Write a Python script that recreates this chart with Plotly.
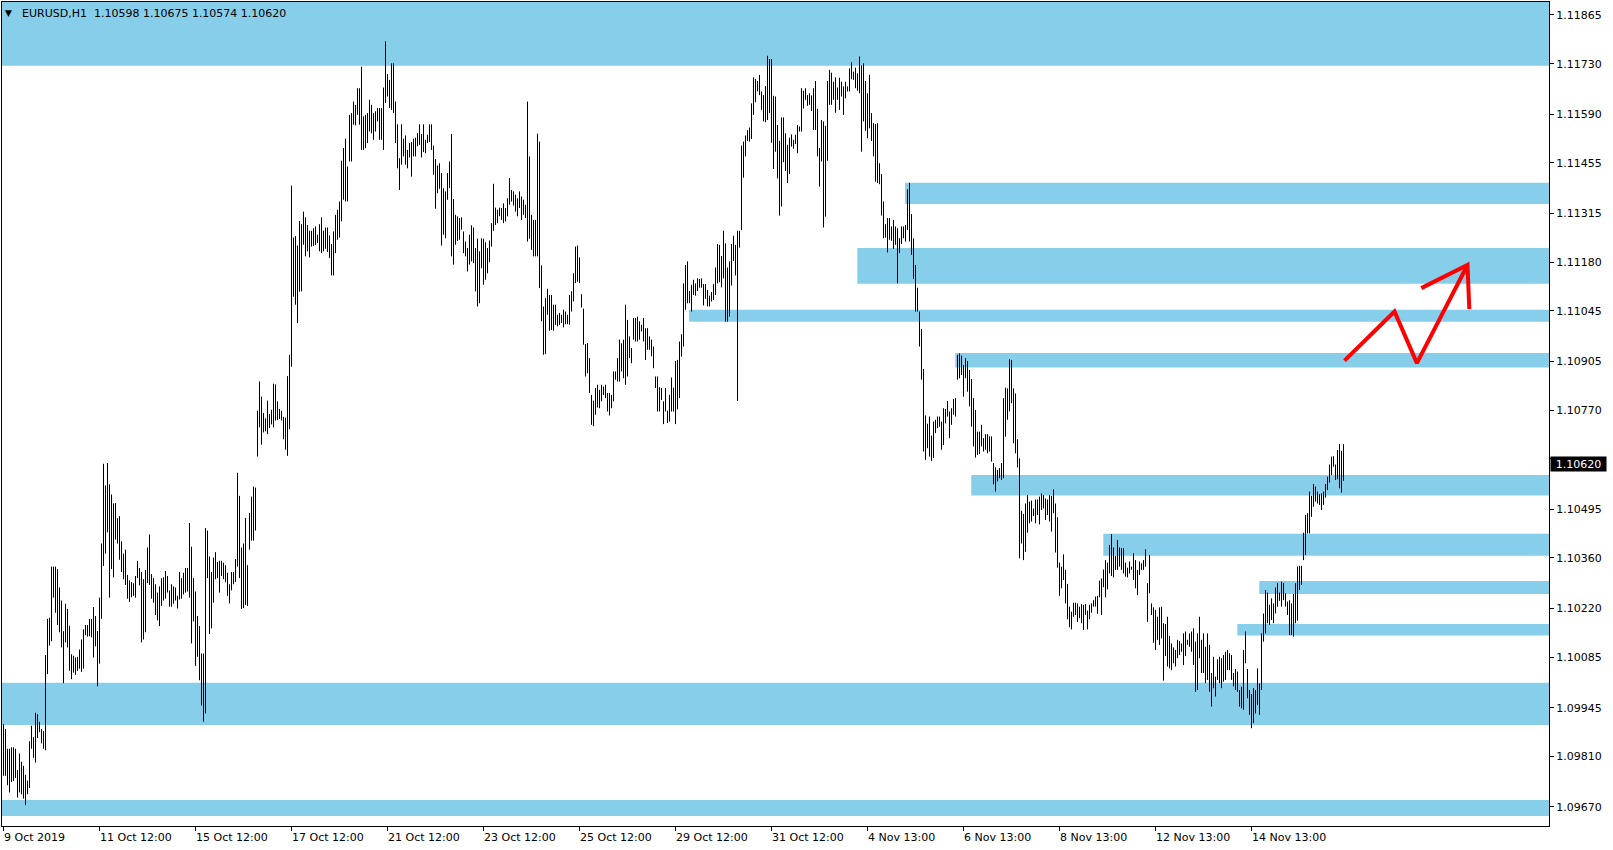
import plotly.graph_objects as go

# ---------------- data ----------------
symbol_header = "EURUSD,H1\u00a0\u00a01.10598 1.10675 1.10574 1.10620"
last_price = 1.10620

highs = [
1.09899,1.09886,1.09831,1.09831,1.09835,1.09835,1.09831,1.09772,1.09818,1.09795,
1.09784,1.09759,1.09743,1.09852,1.09895,1.09863,1.09931,1.09927,1.09906,1.09886,
1.09880,1.10091,1.10191,1.10194,1.10336,1.10336,1.10336,1.10329,1.10278,1.10242,
1.10157,1.10233,1.10219,1.10172,1.10093,1.10089,1.10084,1.10086,1.10106,1.10134,
1.10162,1.10174,1.10174,1.10191,1.10191,1.10224,1.10199,1.10157,1.10250,1.10400,
1.10621,1.10561,1.10623,1.10564,1.10536,1.10511,1.10512,1.10470,1.10476,1.10406,
1.10372,1.10383,1.10313,1.10298,1.10293,1.10290,1.10310,1.10352,1.10332,1.10321,
1.10301,1.10327,1.10389,1.10425,1.10315,1.10304,1.10287,1.10264,1.10281,1.10304,
1.10306,1.10324,1.10310,1.10270,1.10287,1.10281,1.10278,1.10255,1.10321,1.10304,
1.10319,1.10332,1.10332,1.10457,1.10391,1.10304,1.10267,1.10199,1.10171,1.10095,
1.10095,1.10443,1.10436,1.10364,1.10321,1.10361,1.10376,1.10349,1.10352,1.10352,
1.10347,1.10340,1.10319,1.10287,1.10321,1.10321,1.10357,1.10596,1.10532,1.10389,
1.10400,1.10471,1.10340,1.10485,1.10530,1.10558,1.10555,1.10768,1.10849,1.10807,
1.10762,1.10747,1.10796,1.10759,1.10771,1.10843,1.10841,1.10794,1.10773,1.10768,
1.10751,1.10749,1.10864,1.10923,1.11392,1.11248,1.11252,1.11226,1.11294,1.11285,
1.11320,1.11304,1.11283,1.11267,1.11267,1.11274,1.11279,1.11256,1.11285,1.11304,
1.11267,1.11276,1.11276,1.11254,1.11230,1.11265,1.11311,1.11325,1.11348,1.11461,
1.11496,1.11522,1.11445,1.11588,1.11593,1.11625,1.11616,1.11662,1.11662,1.11722,
1.11584,1.11588,1.11593,1.11630,1.11616,1.11593,1.11598,1.11607,1.11607,1.11607,
1.11664,1.11792,1.11701,1.11685,1.11731,1.11731,1.11625,1.11562,1.11468,1.11562,
1.11522,1.11531,1.11491,1.11510,1.11513,1.11522,1.11525,1.11537,1.11562,1.11535,
1.11562,1.11519,1.11533,1.11562,1.11562,1.11503,1.11466,1.11448,1.11454,1.11427,
1.11385,1.11376,1.11427,1.11459,1.11535,1.11355,1.11311,1.11307,1.11302,1.11304,
1.11265,1.11237,1.11219,1.11256,1.11282,1.11276,1.11219,1.11245,1.11210,1.11246,
1.11245,1.11235,1.11219,1.11240,1.11288,1.11397,1.11331,1.11325,1.11331,1.11330,
1.11343,1.11330,1.11357,1.11413,1.11380,1.11376,1.11367,1.11357,1.11376,1.11362,
1.11353,1.11339,1.11625,1.11473,1.11311,1.11297,1.11297,1.11536,1.11514,1.11171,
1.11057,1.11080,1.11106,1.11089,1.11089,1.11062,1.11062,1.11034,1.11039,1.11034,
1.11048,1.11043,1.11034,1.11089,1.11099,1.11149,1.11223,1.11226,1.11193,1.11091,
1.11051,1.10953,1.10956,1.10914,1.10812,1.10796,1.10831,1.10840,1.10826,1.10840,
1.10835,1.10840,1.10817,1.10817,1.10812,1.10877,1.10877,1.10914,1.10965,1.10955,
1.10965,1.11062,1.11020,1.10974,1.10942,1.11025,1.11025,1.11029,1.11016,1.11006,
1.11025,1.10997,1.10997,1.10974,1.10965,1.10946,1.10863,1.10863,1.10833,1.10831,
1.10794,1.10831,1.10768,1.10812,1.10860,1.10832,1.10906,1.10909,1.10960,1.10980,
1.11121,1.11172,1.11182,1.11100,1.11117,1.11131,1.11121,1.11135,1.11133,1.11135,
1.11119,1.11119,1.11103,1.11087,1.11097,1.11119,1.11165,1.11230,1.11228,1.11197,
1.11267,1.11232,1.11165,1.11182,1.11230,1.11253,1.11228,1.11267,1.11267,1.11503,
1.11514,1.11531,1.11546,1.11553,1.11620,1.11692,1.11688,1.11682,1.11699,1.11653,
1.11643,1.11668,1.11752,1.11743,1.11743,1.11641,1.11639,1.11560,1.11516,1.11581,
1.11581,1.11537,1.11505,1.11525,1.11534,1.11519,1.11533,1.11560,1.11556,1.11662,
1.11655,1.11662,1.11643,1.11648,1.11642,1.11662,1.11682,1.11605,1.11496,1.11574,
1.11570,1.11558,1.11682,1.11713,1.11705,1.11680,1.11692,1.11664,1.11691,1.11680,
1.11667,1.11680,1.11667,1.11717,1.11734,1.11708,1.11719,1.11703,1.11750,1.11725,
1.11731,1.11682,1.11648,1.11699,1.11593,1.11565,1.11563,1.11565,1.11454,1.11424,
1.11348,1.11285,1.11302,1.11302,1.11279,1.11297,1.11279,1.11274,1.11246,1.11279,
1.11279,1.11283,1.11382,1.11400,1.11313,1.11246,1.11172,1.11109,1.11043,1.10995,
1.10884,1.10755,1.10732,1.10752,1.10699,1.10738,1.10743,1.10752,1.10752,1.10738,
1.10775,1.10773,1.10795,1.10766,1.10775,1.10801,1.10803,1.10923,1.10927,1.10921,
1.10895,1.10914,1.10906,1.10881,1.10856,1.10803,1.10770,1.10710,1.10710,1.10729,
1.10692,1.10703,1.10703,1.10697,1.10697,1.10623,1.10611,1.10604,1.10609,1.10623,
1.10803,1.10832,1.10830,1.10911,1.10909,1.10830,1.10816,1.10689,1.10636,1.10491,
1.10482,1.10511,1.10534,1.10516,1.10519,1.10497,1.10522,1.10522,1.10530,1.10539,
1.10534,1.10525,1.10522,1.10534,1.10532,1.10550,1.10511,1.10473,1.10347,1.10336,
1.10370,1.10327,1.10288,1.10225,1.10211,1.10236,1.10236,1.10234,1.10225,1.10232,
1.10230,1.10232,1.10214,1.10230,1.10234,1.10243,1.10253,1.10255,1.10297,1.10303,
1.10328,1.10354,1.10347,1.10396,1.10426,1.10389,1.10365,1.10410,1.10389,1.10387,
1.10387,1.10347,1.10333,1.10350,1.10336,1.10373,1.10354,1.10327,1.10350,1.10345,
1.10354,1.10384,1.10290,1.10368,1.10234,1.10223,1.10216,1.10197,1.10223,1.10225,
1.10179,1.10177,1.10197,1.10144,1.10123,1.10112,1.10105,1.10133,1.10130,1.10123,
1.10151,1.10156,1.10133,1.10151,1.10156,1.10165,1.10128,1.10151,1.10197,1.10133,
1.10151,1.10114,1.10151,1.10119,1.10041,1.10086,1.10031,1.10079,1.10086,1.10082,
1.10091,1.10100,1.10105,1.10096,1.10091,1.10041,1.10052,1.10045,1.09994,1.10003,
1.10105,1.10156,1.10052,1.09994,1.09983,1.09999,1.09994,1.10054,1.10012,1.10151,
1.10206,1.10271,1.10264,1.10230,1.10248,1.10234,1.10278,1.10291,1.10264,1.10294,
1.10291,1.10262,1.10239,1.10243,1.10234,1.10260,1.10290,1.10336,1.10338,1.10338,
1.10430,1.10479,1.10484,1.10544,1.10532,1.10565,1.10558,1.10544,1.10537,1.10539,
1.10544,1.10565,1.10585,1.10619,1.10641,1.10642,1.10619,1.10659,1.10676,1.10657,1.10675,
]

lows = [
1.09756,1.09756,1.09730,1.09710,1.09739,1.09742,1.09750,1.09696,1.09710,1.09705,
1.09693,1.09675,1.09705,1.09722,1.09831,1.09806,1.09793,1.09861,1.09877,1.09846,
1.09831,1.09827,1.10038,1.10117,1.10129,1.10250,1.10208,1.10174,1.10154,1.10112,
1.10013,1.10126,1.10112,1.10047,1.10024,1.10042,1.10036,1.10047,1.10053,1.10044,
1.10053,1.10146,1.10142,1.10143,1.10140,1.10084,1.10115,1.10004,1.10067,1.10191,
1.10338,1.10372,1.10431,1.10250,1.10329,1.10306,1.10411,1.10400,1.10355,1.10321,
1.10301,1.10285,1.10247,1.10238,1.10251,1.10255,1.10250,1.10304,1.10284,1.10126,
1.10134,1.10154,1.10290,1.10285,1.10247,1.10236,1.10202,1.10187,1.10171,1.10227,
1.10242,1.10247,1.10264,1.10225,1.10225,1.10233,1.10242,1.10220,1.10245,1.10247,
1.10259,1.10264,1.10267,1.10250,1.10123,1.10184,1.10061,1.10086,1.10021,1.09951,
1.09906,1.09929,1.10304,1.10149,1.10165,1.10236,1.10301,1.10304,1.10264,1.10310,
1.10301,1.10293,1.10255,1.10234,1.10270,1.10287,1.10293,1.10336,1.10304,1.10219,
1.10221,1.10230,1.10227,1.10383,1.10408,1.10408,1.10436,1.10641,1.10722,1.10674,
1.10708,1.10711,1.10703,1.10720,1.10730,1.10722,1.10741,1.10742,1.10745,1.10741,
1.10689,1.10660,1.10643,1.10717,1.10890,1.11084,1.11062,1.11011,1.11098,1.11099,
1.11228,1.11196,1.11210,1.11193,1.11223,1.11225,1.11228,1.11233,1.11210,1.11205,
1.11210,1.11217,1.11208,1.11191,1.11143,1.11143,1.11205,1.11242,1.11248,1.11293,
1.11353,1.11348,1.11348,1.11459,1.11459,1.11561,1.11559,1.11588,1.11561,1.11491,
1.11491,1.11496,1.11510,1.11542,1.11537,1.11519,1.11542,1.11570,1.11519,1.11519,
1.11491,1.11621,1.11639,1.11607,1.11602,1.11593,1.11510,1.11440,1.11380,1.11450,
1.11473,1.11450,1.11440,1.11470,1.11417,1.11473,1.11473,1.11501,1.11505,1.11470,
1.11485,1.11482,1.11510,1.11513,1.11491,1.11422,1.11328,1.11371,1.11383,1.11226,
1.11256,1.11246,1.11353,1.11385,1.11196,1.11173,1.11228,1.11239,1.11242,1.11270,
1.11205,1.11196,1.11154,1.11173,1.11182,1.11177,1.11099,1.11057,1.11066,1.11163,
1.11117,1.11131,1.11149,1.11180,1.11223,1.11267,1.11283,1.11288,1.11307,1.11297,
1.11288,1.11293,1.11307,1.11339,1.11348,1.11337,1.11320,1.11307,1.11330,1.11297,
1.11311,1.11302,1.11237,1.11245,1.11214,1.11196,1.11196,1.11196,1.11108,1.11016,
1.10923,1.10925,1.11034,1.10990,1.10992,1.10990,1.11006,1.11002,1.11006,1.11011,
1.10999,1.11008,1.11008,1.11006,1.11043,1.11071,1.11122,1.11126,1.11122,1.11054,
1.10951,1.10863,1.10872,1.10817,1.10729,1.10725,1.10757,1.10777,1.10775,1.10794,
1.10812,1.10803,1.10766,1.10755,1.10775,1.10794,1.10854,1.10849,1.10849,1.10877,
1.10858,1.10840,1.10863,1.10914,1.10900,1.10965,1.10960,1.10960,1.10965,1.10988,
1.10960,1.10909,1.10937,1.10937,1.10919,1.10886,1.10831,1.10766,1.10766,1.10798,
1.10731,1.10766,1.10734,1.10738,1.10766,1.10766,1.10731,1.10772,1.10803,1.10918,
1.10946,1.11048,1.11066,1.11066,1.11043,1.11089,1.11087,1.11100,1.11109,1.11109,
1.11060,1.11078,1.11057,1.11057,1.11071,1.11075,1.11089,1.11121,1.11124,1.11110,
1.11135,1.11015,1.11015,1.11029,1.11115,1.11183,1.11143,1.10795,1.11220,1.11269,
1.11414,1.11473,1.11516,1.11514,1.11521,1.11588,1.11623,1.11653,1.11643,1.11602,
1.11570,1.11568,1.11574,1.11593,1.11511,1.11438,1.11486,1.11412,1.11309,1.11334,
1.11457,1.11433,1.11399,1.11424,1.11500,1.11494,1.11507,1.11482,1.11542,1.11542,
1.11606,1.11630,1.11613,1.11616,1.11599,1.11546,1.11546,1.11473,1.11389,1.11459,
1.11276,1.11306,1.11461,1.11616,1.11616,1.11630,1.11594,1.11630,1.11602,1.11639,
1.11588,1.11634,1.11653,1.11653,1.11687,1.11685,1.11662,1.11655,1.11648,1.11486,
1.11570,1.11544,1.11523,1.11551,1.11516,1.11473,1.11403,1.11399,1.11396,1.11309,
1.11246,1.11248,1.11207,1.11242,1.11239,1.11217,1.11228,1.11121,1.11205,1.11230,
1.11246,1.11237,1.11269,1.11237,1.11200,1.11133,1.11043,1.11043,1.10946,1.10854,
1.10655,1.10632,1.10664,1.10641,1.10629,1.10637,1.10706,1.10720,1.10724,1.10660,
1.10673,1.10733,1.10752,1.10692,1.10729,1.10757,1.10752,1.10854,1.10858,1.10867,
1.10807,1.10858,1.10821,1.10780,1.10724,1.10669,1.10638,1.10646,1.10648,1.10669,
1.10655,1.10660,1.10650,1.10655,1.10627,1.10564,1.10544,1.10572,1.10581,1.10576,
1.10581,1.10696,1.10743,1.10766,1.10789,1.10678,1.10650,1.10611,1.10359,1.10400,
1.10354,1.10377,1.10430,1.10456,1.10461,1.10476,1.10456,1.10479,1.10453,1.10493,
1.10497,1.10465,1.10479,1.10461,1.10433,1.10484,1.10375,1.10333,1.10255,1.10276,
1.10299,1.10234,1.10190,1.10168,1.10162,1.10197,1.10202,1.10183,1.10193,1.10179,
1.10160,1.10202,1.10162,1.10190,1.10208,1.10225,1.10225,1.10205,1.10251,1.10202,
1.10279,1.10251,1.10273,1.10317,1.10310,1.10306,1.10327,1.10327,1.10336,1.10327,
1.10317,1.10308,1.10306,1.10317,1.10327,1.10299,1.10276,1.10257,1.10313,1.10327,
1.10327,1.10336,1.10183,1.10262,1.10202,1.10125,1.10105,1.10133,1.10119,1.10137,
1.10020,1.10088,1.10059,1.10054,1.10049,1.10068,1.10059,1.10082,1.10091,1.10100,
1.10063,1.10088,1.10119,1.10114,1.10100,1.10063,1.09989,1.09994,1.10082,1.10041,
1.10041,1.10013,1.10022,1.09989,1.09948,1.09999,1.09976,1.10022,1.10013,1.09999,
1.10017,1.10022,1.10049,1.10049,1.10022,1.10004,1.09994,1.09989,1.09948,1.09943,
1.09939,1.10068,1.09971,1.09925,1.09888,1.09902,1.09929,1.09952,1.09925,1.09994,
1.10128,1.10151,1.10179,1.10174,1.10188,1.10179,1.10206,1.10225,1.10241,1.10225,
1.10243,1.10225,1.10202,1.10146,1.10146,1.10142,1.10179,1.10186,1.10271,1.10285,
1.10354,1.10368,1.10428,1.10428,1.10474,1.10502,1.10516,1.10511,1.10507,1.10493,
1.10507,1.10527,1.10548,1.10569,1.10590,1.10613,1.10576,1.10578,1.10553,1.10541,1.10574,
]

# time-axis labels (bar index -> label)
time_tick_bars = [0, 48, 96, 144, 192, 240, 288, 336, 384, 432, 480, 528, 576, 624]
time_tick_text = ["9 Oct 2019", "11 Oct 12:00", "15 Oct 12:00", "17 Oct 12:00",
                  "21 Oct 12:00", "23 Oct 12:00", "25 Oct 12:00", "29 Oct 12:00",
                  "31 Oct 12:00", "4 Nov 13:00", "6 Nov 13:00", "8 Nov 13:00",
                  "12 Nov 13:00", "14 Nov 13:00"]

price_ticks = [1.11865, 1.11730, 1.11590, 1.11455, 1.11315, 1.11180, 1.11045,
               1.10905, 1.10770, 1.10635, 1.10495, 1.10360, 1.10220, 1.10085,
               1.09945, 1.09810, 1.09670]
# the 1.10635 label is hidden behind the current-price box
price_tick_text = ["" if abs(v - 1.10635) < 1e-9 else f"{v:.5f}" for v in price_ticks]

# supply / demand zones: (start bar, price top, price bottom); None = from chart start
zone_start = [None, 450.8, 426.9, 342.8, 475.9, 483.9, 549.9, 627.9, 616.9, None, None]
zone_top = [1.11901, 1.11400, 1.11219, 1.11048, 1.10928, 1.10590, 1.10427, 1.10296, 1.10177, 1.10014, 1.09689]
zone_bot = [1.11724, 1.11341, 1.11120, 1.11015, 1.10888, 1.10533, 1.10366, 1.10260, 1.10145, 1.09897, 1.09645]

# hand-drawn projection arrow (bar index, price)
arrow_path_x = [670.5, 695.5, 706.7, 732.0]
arrow_path_y = [1.10907, 1.11043, 1.10900, 1.11172]
arrow_head_x = [708.9, 732.0, 732.9]
arrow_head_y = [1.11108, 1.11172, 1.11050]

# ---------------- figure ----------------
X0, X1 = -0.75, 772.75
Y0, Y1 = 1.09617, 1.11901
FONT = "DejaVu Sans"
ZONE_COLOR = "#87CEEB"

bx, by = [], []
for i, (h, l) in enumerate(zip(highs, lows)):
    bx += [i, i, None]
    by += [l, h, None]

fig = go.Figure()
fig.add_trace(go.Scatter(x=bx, y=by, mode="lines",
                         line=dict(color="black", width=1),
                         hoverinfo="skip", showlegend=False))
fig.add_trace(go.Scatter(x=arrow_path_x, y=arrow_path_y, mode="lines",
                         line=dict(color="#FF0000", width=4),
                         hoverinfo="skip", showlegend=False))
fig.add_trace(go.Scatter(x=arrow_head_x, y=arrow_head_y, mode="lines",
                         line=dict(color="#FF0000", width=4),
                         hoverinfo="skip", showlegend=False))

shapes = []
for s, t, b in zip(zone_start, zone_top, zone_bot):
    shapes.append(dict(type="rect", xref="x", yref="y",
                       x0=X0 if s is None else s, x1=X1, y0=b, y1=t,
                       fillcolor=ZONE_COLOR, line=dict(width=0), layer="below"))

annotations = []
for b, t in zip(time_tick_bars, time_tick_text):
    annotations.append(dict(x=b, y=0, xref="x", yref="paper", text=t,
                            showarrow=False, xanchor="left", yanchor="top",
                            xshift=-2, yshift=-3,
                            font=dict(family=FONT, size=11, color="black")))
annotations.append(dict(x=0, y=1, xref="paper", yref="paper", text="\u25BC",
                        showarrow=False, xanchor="left", yanchor="middle",
                        xshift=1, yshift=-11,
                        font=dict(family=FONT, size=9, color="black")))
annotations.append(dict(x=0, y=1, xref="paper", yref="paper", text=symbol_header,
                        showarrow=False, xanchor="left", yanchor="middle",
                        xshift=18, yshift=-11,
                        font=dict(family=FONT, size=11, color="black")))
annotations.append(dict(x=1, y=last_price, xref="paper", yref="y",
                        text=f"{last_price:.5f}", showarrow=False,
                        xanchor="left", yanchor="middle", xshift=1,
                        width=55, height=14, borderpad=0, align="center",
                        bgcolor="black",
                        font=dict(family=FONT, size=11, color="white")))

fig.update_layout(
    width=1613, height=850,
    margin=dict(l=2, r=64, t=2, b=24, pad=0),
    paper_bgcolor="white", plot_bgcolor="white",
    showlegend=False,
    shapes=shapes, annotations=annotations,
    xaxis=dict(range=[X0, X1], showgrid=False, zeroline=False,
               showline=True, linecolor="black", linewidth=1, mirror=True,
               ticks="outside", ticklen=4, tickcolor="black", tickwidth=1,
               tickvals=time_tick_bars, showticklabels=False, fixedrange=True),
    yaxis=dict(range=[Y0, Y1], side="right", showgrid=False, zeroline=False,
               showline=True, linecolor="black", linewidth=1, mirror=True,
               ticks="outside", ticklen=4, tickcolor="black", tickwidth=1,
               tickvals=price_ticks, ticktext=price_tick_text,
               tickfont=dict(family=FONT, size=11, color="black"),
               fixedrange=True),
)

fig.write_html("out.html", config={"displayModeBar": False},
               post_script="document.body.style.margin='0';document.body.style.overflow='hidden';")
